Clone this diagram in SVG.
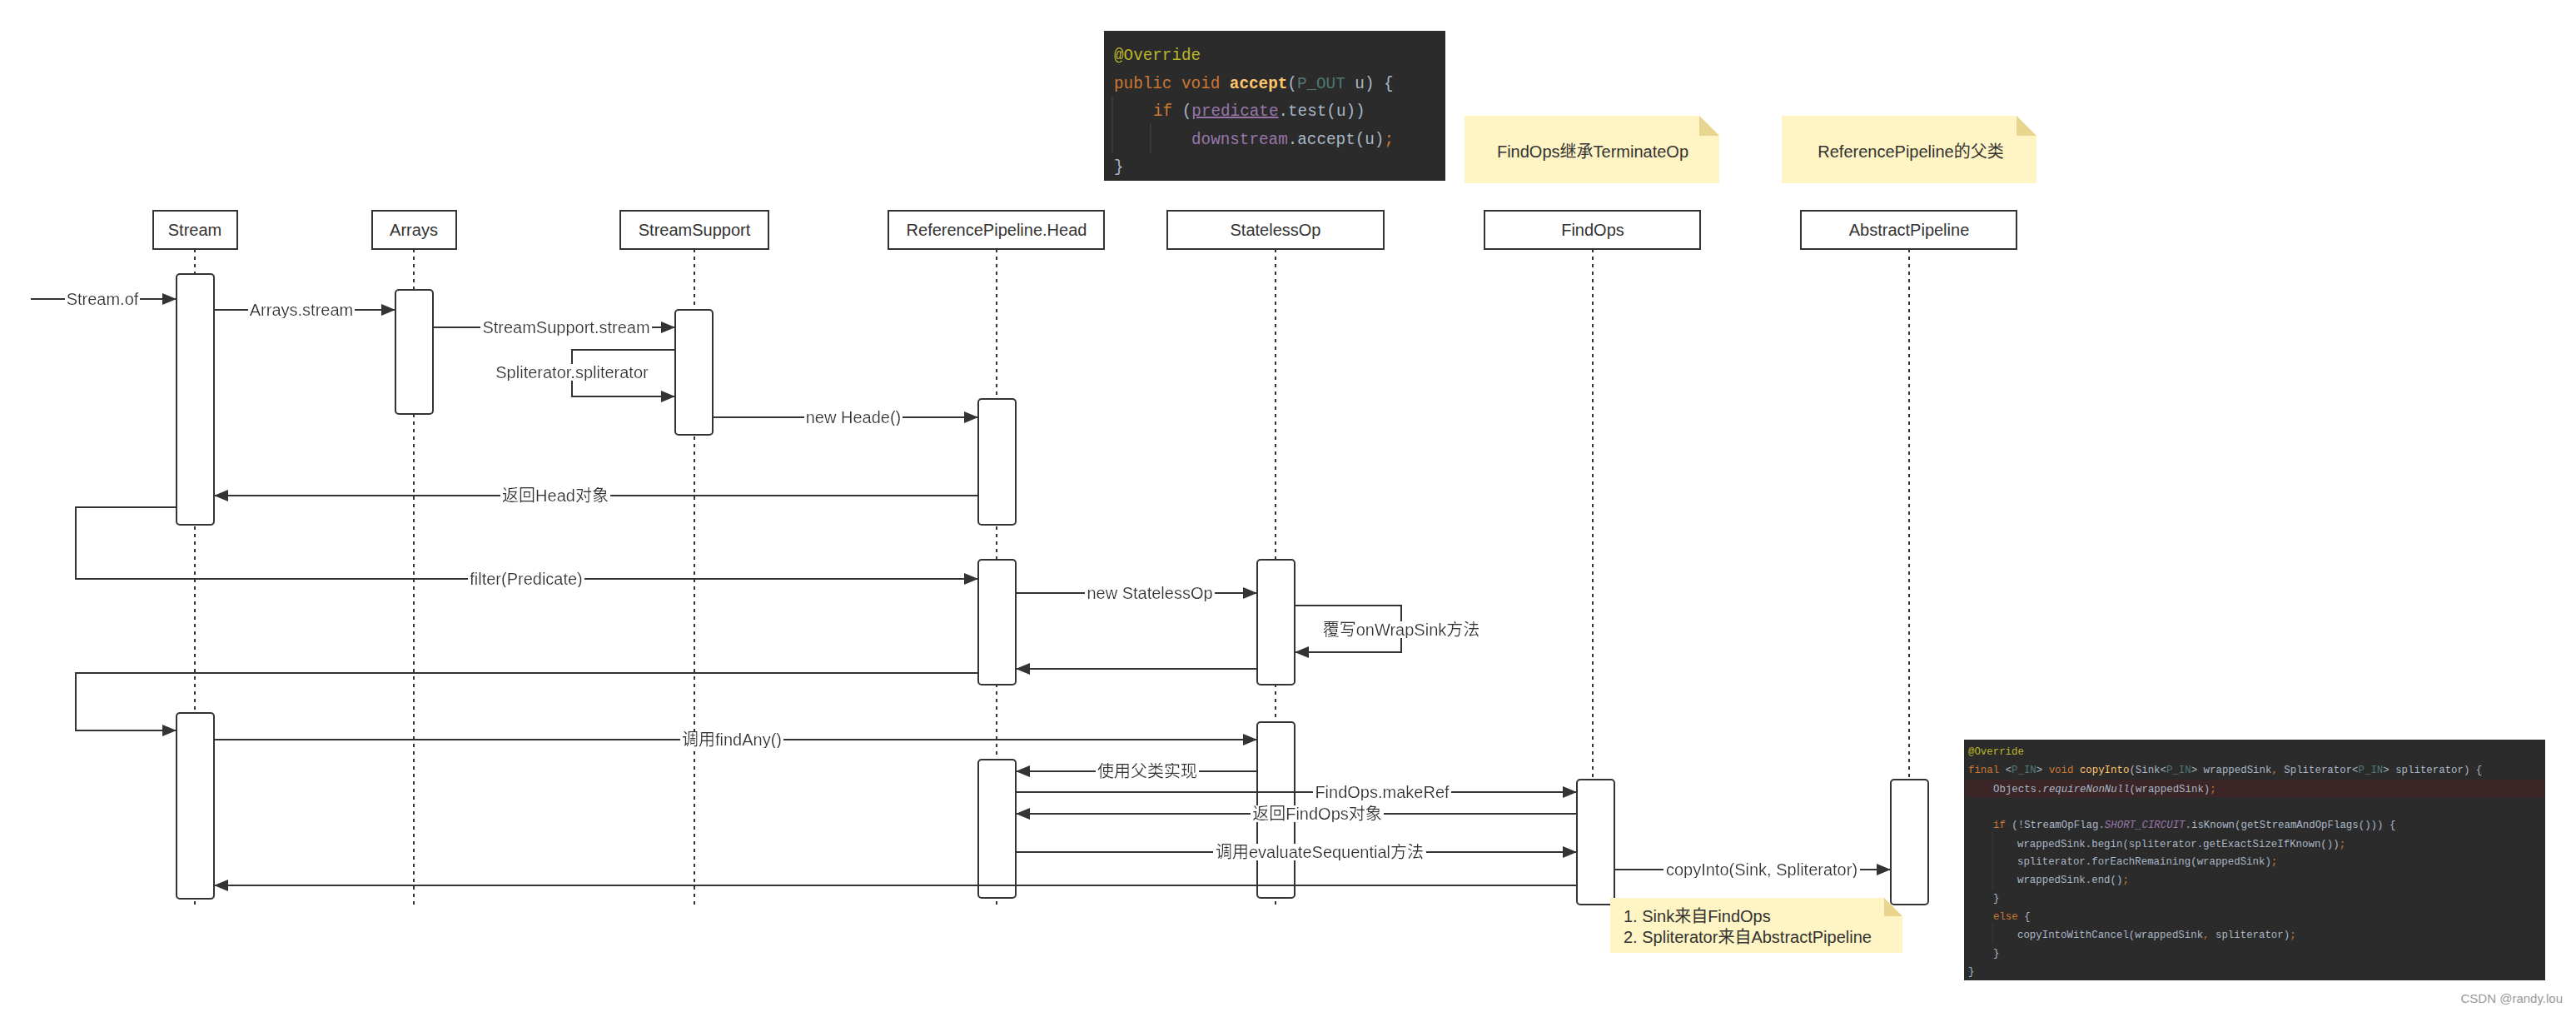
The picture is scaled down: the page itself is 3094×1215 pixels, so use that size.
<svg xmlns="http://www.w3.org/2000/svg" width="3094" height="1215" viewBox="0 0 3094 1215">
<defs>
<style>
.box{fill:#fff;stroke:#333;stroke-width:2}
.act{fill:#fff;stroke:#333;stroke-width:2}
.life{stroke:#333;stroke-width:2;stroke-dasharray:4 5;fill:none}
.t{font-family:"Liberation Sans","Noto Sans CJK SC",sans-serif;font-size:20px;fill:#333}
.c{text-anchor:middle}
.lbl{filter:url(#bg)}
.msg{stroke:#333;stroke-width:2;fill:none;marker-end:url(#ah)}
.note{fill:#FFF4C4}
.fold{fill:#E8D590}
.code{font-family:"Liberation Mono","DejaVu Sans Mono",monospace;fill:#A9B7C6;white-space:pre}
.k{fill:#CC7832}.an{fill:#BBB529}.fn{fill:#FFC66D}.tp{fill:#507874}.pu{fill:#9876AA}
</style>
<filter id="bg" x="-0.01" y="0.08" width="1.02" height="0.84">
<feFlood flood-color="#ffffff"/>
<feComposite in="SourceGraphic" operator="over"/>
</filter>
<marker id="ah" markerUnits="userSpaceOnUse" markerWidth="17" markerHeight="14" refX="17" refY="7" orient="auto">
<path d="M0,0 L17,7 L0,14 z" fill="#333"/>
</marker>
</defs>
<rect width="3094" height="1215" fill="#fff"/>

<!-- code snippet 1 -->
<g id="code1">
<rect x="1326" y="37" width="410" height="180" fill="#2B2B2B"/>
<line x1="1336" y1="115" x2="1336" y2="184" stroke="#3E3E3E" stroke-width="1.5"/>
<line x1="1382" y1="148" x2="1382" y2="184" stroke="#3E3E3E" stroke-width="1.5"/>
<text class="code" font-size="19.3" x="1338" y="72"><tspan class="an">@Override</tspan></text>
<text class="code" font-size="19.3" x="1338" y="106"><tspan class="k">public void </tspan><tspan class="fn" font-weight="bold">accept</tspan>(<tspan class="tp">P_OUT</tspan> u) {</text>
<text class="code" font-size="19.3" x="1385" y="139"><tspan class="k">if</tspan> (<tspan class="pu" text-decoration="underline">predicate</tspan>.test(u))</text>
<text class="code" font-size="19.3" x="1431" y="173"><tspan class="pu">downstream</tspan>.accept(u)<tspan class="k">;</tspan></text>
<text class="code" font-size="19.3" x="1338" y="206">}</text>
</g>

<!-- notes -->
<g id="note1">
<path class="note" d="M1759,139 H2041 L2065,163 V220 H1759 z"/>
<path class="fold" d="M2041,139 L2065,163 H2041 z"/>
<text class="t c" x="1913" y="189">FindOps继承TerminateOp</text>
</g>
<g id="note2">
<path class="note" d="M2140,139 H2422 L2446,163 V220 H2140 z"/>
<path class="fold" d="M2422,139 L2446,163 H2422 z"/>
<text class="t c" x="2295" y="189">ReferencePipeline的父类</text>
</g>

<!-- lifelines -->
<g id="lifelines">
<line class="life" x1="234" y1="299" x2="234" y2="1086"/>
<line class="life" x1="497" y1="299" x2="497" y2="1086"/>
<line class="life" x1="834" y1="299" x2="834" y2="1086"/>
<line class="life" x1="1197" y1="299" x2="1197" y2="1086"/>
<line class="life" x1="1532" y1="299" x2="1532" y2="1086"/>
<line class="life" x1="1913" y1="299" x2="1913" y2="1086"/>
<line class="life" x1="2293" y1="299" x2="2293" y2="1086"/>
</g>

<!-- participants -->
<g id="Stream"><rect class="box" x="184" y="253" width="101" height="46"/><text class="t c" x="234" y="283">Stream</text></g>
<g id="Arrays"><rect class="box" x="447" y="253" width="101" height="46"/><text class="t c" x="497" y="283">Arrays</text></g>
<g id="StreamSupport"><rect class="box" x="745" y="253" width="178" height="46"/><text class="t c" x="834" y="283">StreamSupport</text></g>
<g id="ReferencePipelineHead"><rect class="box" x="1067" y="253" width="259" height="46"/><text class="t c" x="1197" y="283">ReferencePipeline.Head</text></g>
<g id="StatelessOp"><rect class="box" x="1402" y="253" width="260" height="46"/><text class="t c" x="1532" y="283">StatelessOp</text></g>
<g id="FindOps"><rect class="box" x="1783" y="253" width="259" height="46"/><text class="t c" x="1913" y="283">FindOps</text></g>
<g id="AbstractPipeline"><rect class="box" x="2163" y="253" width="259" height="46"/><text class="t c" x="2293" y="283">AbstractPipeline</text></g>

<!-- activations -->
<g id="activations">
<rect class="act" x="212" y="329" width="45" height="301" rx="4"/>
<rect class="act" x="212" y="856" width="45" height="223" rx="4"/>
<rect class="act" x="475" y="348" width="45" height="149" rx="4"/>
<rect class="act" x="811" y="372" width="45" height="150" rx="4"/>
<rect class="act" x="1175" y="479" width="45" height="151" rx="4"/>
<rect class="act" x="1175" y="672" width="45" height="150" rx="4"/>
<rect class="act" x="1175" y="912" width="45" height="166" rx="4"/>
<rect class="act" x="1510" y="672" width="45" height="150" rx="4"/>
<rect class="act" x="1510" y="867" width="45" height="211" rx="4"/>
<rect class="act" x="1894" y="936" width="45" height="150" rx="4"/>
<rect class="act" x="2271" y="936" width="45" height="150" rx="4"/>
</g>

<!-- connectors -->
<g id="connectors">
<path class="msg" d="M37,359 H212"/>
<path class="msg" d="M257,372 H475"/>
<path class="msg" d="M520,393 H811"/>
<path class="msg" d="M811,420 H687 V476 H811"/>
<path class="msg" d="M856,501 H1175"/>
<path class="msg" d="M1175,595 H257"/>
<path class="msg" d="M212,609 H91 V695 H1175"/>
<path class="msg" d="M1220,712 H1510"/>
<path class="msg" d="M1555,727 H1683 V783 H1555"/>
<path class="msg" d="M1510,803 H1220"/>
<path class="msg" d="M1175,808 H91 V877 H212"/>
<path class="msg" d="M257,888 H1510"/>
<path class="msg" d="M1510,926 H1220"/>
<path class="msg" d="M1220,951 H1894"/>
<path class="msg" d="M1894,977 H1220"/>
<path class="msg" d="M1220,1023 H1894"/>
<path class="msg" d="M1894,1063 H257"/>
<path class="msg" d="M1939,1044 H2271"/>
</g>

<!-- connector labels -->
<g id="labels">
<text class="t c lbl" x="123" y="366">Stream.of</text>
<text class="t c lbl" x="362" y="379">Arrays.stream</text>
<text class="t c lbl" x="680" y="400">StreamSupport.stream</text>
<text class="t c lbl" x="687" y="454">Spliterator.spliterator</text>
<text class="t c lbl" x="1025" y="508">new Heade()</text>
<text class="t c lbl" x="667" y="602">返回Head对象</text>
<text class="t c lbl" x="632" y="702">filter(Predicate)</text>
<text class="t c lbl" x="1381" y="719">new StatelessOp</text>
<text class="t c lbl" x="1683" y="763">覆写onWrapSink方法</text>
<text class="t c lbl" x="879" y="895">调用findAny()</text>
<text class="t c lbl" x="1378" y="933">使用父类实现</text>
<text class="t c lbl" x="1660" y="958">FindOps.makeRef</text>
<text class="t c lbl" x="1582" y="984">返回FindOps对象</text>
<text class="t c lbl" x="1585" y="1030">调用evaluateSequential方法</text>
<text class="t c lbl" x="2116" y="1051">copyInto(Sink, Spliterator)</text>
</g>

<!-- note 3 -->
<g id="note3">
<path class="note" d="M1934,1078 H2263 L2285,1100 V1144 H1934 z"/>
<path class="fold" d="M2263,1078 L2285,1100 H2263 z"/>
<text class="t" x="1950" y="1107">1. Sink来自FindOps</text>
<text class="t" x="1950" y="1132">2. Spliterator来自AbstractPipeline</text>
</g>

<!-- code snippet 2 -->
<g id="code2">
<rect x="2359" y="888" width="698" height="289" fill="#2B2B2B"/>
<rect x="2359" y="936" width="698" height="21" fill="#3B2526"/>
<line x1="2393" y1="998" x2="2393" y2="1068" stroke="#3A3A3A" stroke-width="1"/>
<line x1="2393" y1="1108" x2="2393" y2="1134" stroke="#3A3A3A" stroke-width="1"/>
<text class="code" font-size="12.4" x="2364" y="906"><tspan class="an">@Override</tspan></text>
<text class="code" font-size="12.4" x="2364" y="928"><tspan class="k">final </tspan>&lt;<tspan class="tp">P_IN</tspan>&gt; <tspan class="k">void </tspan><tspan class="fn">copyInto</tspan>(Sink&lt;<tspan class="tp">P_IN</tspan>&gt; wrappedSink<tspan class="k">,</tspan> Spliterator&lt;<tspan class="tp">P_IN</tspan>&gt; spliterator) {</text>
<text class="code" font-size="12.4" x="2394" y="951">Objects.<tspan font-style="italic">requireNonNull</tspan>(wrappedSink)<tspan class="k">;</tspan></text>
<text class="code" font-size="12.4" x="2394" y="994"><tspan class="k">if</tspan> (!StreamOpFlag.<tspan class="pu" font-style="italic">SHORT_CIRCUIT</tspan>.isKnown(getStreamAndOpFlags())) {</text>
<text class="code" font-size="12.4" x="2423" y="1017">wrappedSink.begin(spliterator.getExactSizeIfKnown())<tspan class="k">;</tspan></text>
<text class="code" font-size="12.4" x="2423" y="1038">spliterator.forEachRemaining(wrappedSink)<tspan class="k">;</tspan></text>
<text class="code" font-size="12.4" x="2423" y="1060">wrappedSink.end()<tspan class="k">;</tspan></text>
<text class="code" font-size="12.4" x="2394" y="1082">}</text>
<text class="code" font-size="12.4" x="2394" y="1104"><tspan class="k">else</tspan> {</text>
<text class="code" font-size="12.4" x="2423" y="1126">copyIntoWithCancel(wrappedSink<tspan class="k">,</tspan> spliterator)<tspan class="k">;</tspan></text>
<text class="code" font-size="12.4" x="2394" y="1148">}</text>
<text class="code" font-size="12.4" x="2364" y="1170">}</text>
</g>

<text x="3078" y="1204" text-anchor="end" font-family="Liberation Sans, sans-serif" font-size="15" fill="#999">CSDN @randy.lou</text>
</svg>
